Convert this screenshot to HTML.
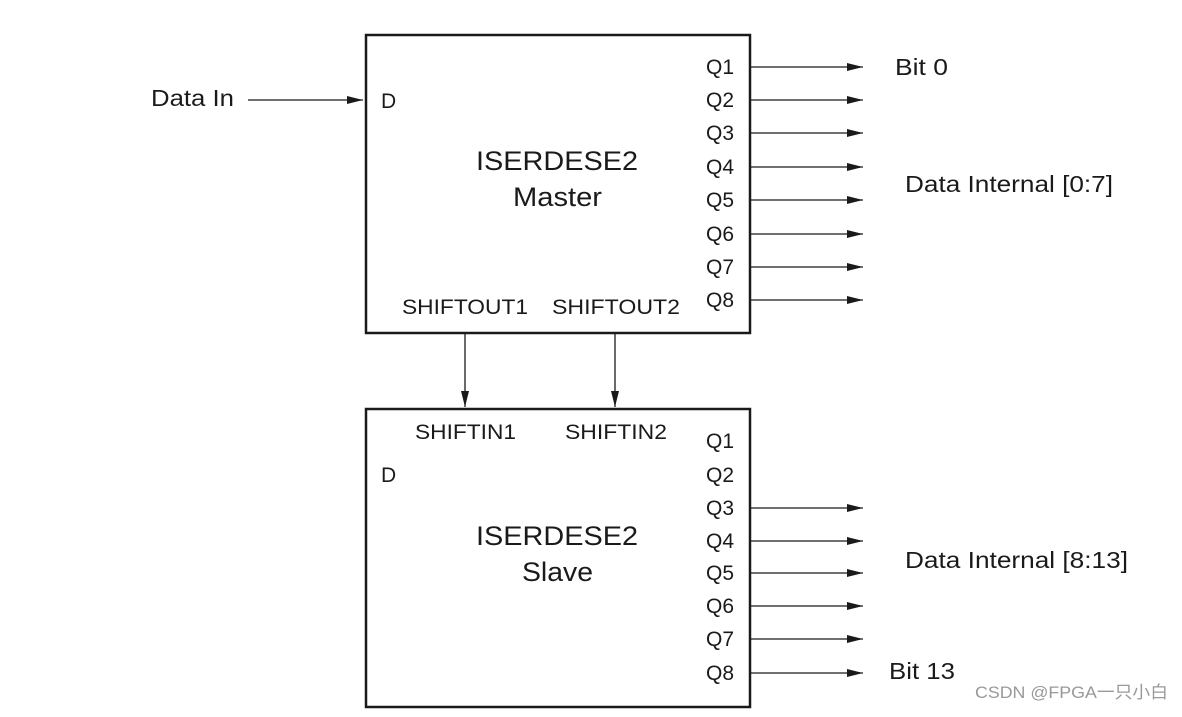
<!DOCTYPE html>
<html><head><meta charset="utf-8"><style>
html,body{margin:0;padding:0;background:#fff;}
svg text{font-family:"Liberation Sans",Arial,sans-serif;fill:#1a1a1a;}
</style></head><body>
<svg width="1182" height="712" viewBox="0 0 1182 712" xmlns="http://www.w3.org/2000/svg">
<defs><marker id="a" viewBox="0 0 16 8" refX="16" refY="4" markerWidth="16" markerHeight="8" markerUnits="userSpaceOnUse" orient="auto"><path d="M0,0 L16,4 L0,8 z" fill="#1a1a1a"/></marker></defs>
<g fill="none" stroke="#1a1a1a">
<rect x="366" y="35" width="384" height="298" stroke-width="2.5"/>
<rect x="366" y="409" width="384" height="298" stroke-width="2.5"/>
<g stroke-width="1.3" marker-end="url(#a)">
<line x1="248" y1="100" x2="363" y2="100"/>
<line x1="751" y1="67" x2="863" y2="67"/>
<line x1="751" y1="100" x2="863" y2="100"/>
<line x1="751" y1="133" x2="863" y2="133"/>
<line x1="751" y1="167" x2="863" y2="167"/>
<line x1="751" y1="200" x2="863" y2="200"/>
<line x1="751" y1="234" x2="863" y2="234"/>
<line x1="751" y1="267" x2="863" y2="267"/>
<line x1="751" y1="300" x2="863" y2="300"/>
<line x1="751" y1="508" x2="863" y2="508"/>
<line x1="751" y1="541" x2="863" y2="541"/>
<line x1="751" y1="573" x2="863" y2="573"/>
<line x1="751" y1="606" x2="863" y2="606"/>
<line x1="751" y1="639" x2="863" y2="639"/>
<line x1="751" y1="673" x2="863" y2="673"/>
<line x1="465" y1="334" x2="465" y2="407"/>
<line x1="615" y1="334" x2="615" y2="407"/>
</g></g>
<g font-size="23" lengthAdjust="spacingAndGlyphs">
<text x="151" y="106" textLength="83" lengthAdjust="spacingAndGlyphs">Data In</text>
<text x="895" y="75" textLength="53" lengthAdjust="spacingAndGlyphs">Bit 0</text>
<text x="905" y="192" textLength="208" lengthAdjust="spacingAndGlyphs">Data Internal [0:7]</text>
<text x="905" y="568" textLength="223" lengthAdjust="spacingAndGlyphs">Data Internal [8:13]</text>
<text x="889" y="679" textLength="66" lengthAdjust="spacingAndGlyphs">Bit 13</text>
</g>
<g font-size="21">
<text x="381" y="108">D</text>
<text x="381" y="482">D</text>
<text x="402" y="314" textLength="126" lengthAdjust="spacingAndGlyphs">SHIFTOUT1</text>
<text x="552" y="314" textLength="128" lengthAdjust="spacingAndGlyphs">SHIFTOUT2</text>
<text x="415" y="439" textLength="101" lengthAdjust="spacingAndGlyphs">SHIFTIN1</text>
<text x="565" y="439" textLength="102" lengthAdjust="spacingAndGlyphs">SHIFTIN2</text>
</g>
<g font-size="21" text-anchor="middle">
<text x="720" y="74">Q1</text><text x="720" y="107">Q2</text><text x="720" y="140">Q3</text><text x="720" y="174">Q4</text>
<text x="720" y="207">Q5</text><text x="720" y="241">Q6</text><text x="720" y="274">Q7</text><text x="720" y="307">Q8</text>
<text x="720" y="448">Q1</text><text x="720" y="482">Q2</text><text x="720" y="515">Q3</text><text x="720" y="548">Q4</text>
<text x="720" y="580">Q5</text><text x="720" y="613">Q6</text><text x="720" y="646">Q7</text><text x="720" y="680">Q8</text>
</g>
<g font-size="27">
<text x="476" y="170" textLength="162" lengthAdjust="spacingAndGlyphs">ISERDESE2</text>
<text x="513" y="206" textLength="89" lengthAdjust="spacingAndGlyphs">Master</text>
<text x="476" y="545" textLength="162" lengthAdjust="spacingAndGlyphs">ISERDESE2</text>
<text x="522" y="581" textLength="71" lengthAdjust="spacingAndGlyphs">Slave</text>
</g>
<text x="975" y="698" font-size="17" textLength="193" lengthAdjust="spacingAndGlyphs" style="fill:#999;font-family:'Liberation Sans','Noto Sans CJK SC',sans-serif">CSDN @FPGA一只小白</text>
</svg>
</body></html>
